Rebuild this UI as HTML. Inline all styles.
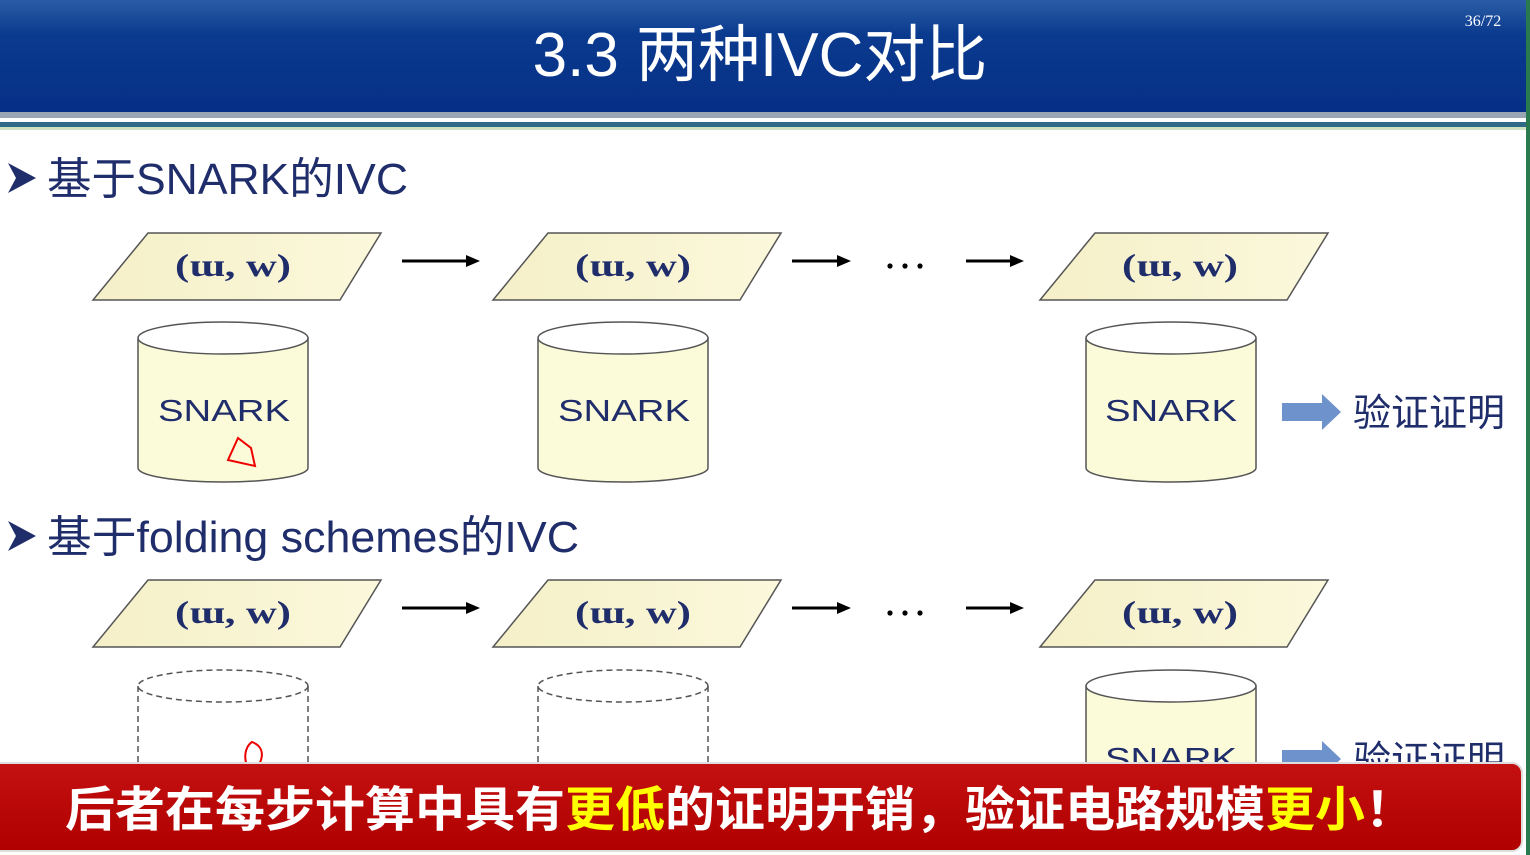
<!DOCTYPE html>
<html><head><meta charset="utf-8"><style>
html,body{margin:0;padding:0;width:1530px;height:855px;overflow:hidden;background:#fff}
svg{display:block}
</style></head><body>
<svg width="1530" height="855" viewBox="0 0 1530 855" xmlns="http://www.w3.org/2000/svg" font-family="'Liberation Sans','Noto Sans CJK SC',sans-serif">
<defs>
<linearGradient id="hd" x1="0" y1="0" x2="0" y2="1">
<stop offset="0" stop-color="#2a5da6"/><stop offset="0.3" stop-color="#0a3a8e"/><stop offset="1" stop-color="#062f86"/></linearGradient>
<linearGradient id="py" x1="0" y1="0" x2="1" y2="0"><stop offset="0" stop-color="#f5f0c8"/><stop offset="1" stop-color="#fbf8dc"/></linearGradient>
<linearGradient id="rb" x1="0" y1="0" x2="0" y2="1"><stop offset="0" stop-color="#c41010"/><stop offset="1" stop-color="#b00000"/></linearGradient>
</defs>
<rect x="0" y="0" width="1530" height="115" fill="url(#hd)"/>
<rect x="0" y="112" width="1530" height="6" fill="#9aa6b4"/>
<rect x="0" y="118" width="1530" height="4" fill="#fff"/>
<rect x="0" y="122" width="1530" height="5" fill="#2f6a86"/>
<rect x="0" y="127" width="1530" height="3" fill="#cfe3c0"/>
<rect x="1526" y="0" width="4" height="855" fill="#2a7a50"/>
<text x="760" y="76" font-size="62" fill="#fff" text-anchor="middle">3.3 两种IVC对比</text>
<text x="1483" y="26" font-size="16" fill="#fff" font-family="'Liberation Serif',serif" text-anchor="middle">36/72</text>

<g fill="#1f2d6b">
<path d="M8,163 L36,178 L8,193 L16,178 Z"/>
<text x="47" y="194" font-size="44" textLength="361" lengthAdjust="spacingAndGlyphs">基于SNARK的IVC</text>
<path d="M8,521 L36,536 L8,551 L16,536 Z"/>
<text x="47" y="552" font-size="44" textLength="532" lengthAdjust="spacingAndGlyphs">基于folding schemes的IVC</text>
</g>

<g id="r1">
<g stroke="#555" stroke-width="1.5" fill="url(#py)">
<path d="M148,233 L381,233 L340,300 L93,300 Z"/>
<path d="M548,233 L781,233 L740,300 L493,300 Z"/>
<path d="M1095,233 L1328,233 L1287,300 L1040,300 Z"/>
</g>
<g font-family="'Liberation Serif','DejaVu Serif',serif" font-size="32" font-weight="bold" fill="#1f2d6b">
<text x="175" y="276" textLength="116" lengthAdjust="spacingAndGlyphs">(ɯ, w)</text>
<text x="575" y="276" textLength="116" lengthAdjust="spacingAndGlyphs">(ɯ, w)</text>
<text x="1122" y="276" textLength="116" lengthAdjust="spacingAndGlyphs">(ɯ, w)</text>
</g>
<g stroke="#000" stroke-width="3">
<line x1="402" y1="261" x2="468" y2="261"/><line x1="792" y1="261" x2="839" y2="261"/><line x1="966" y1="261" x2="1012" y2="261"/>
</g>
<g fill="#000">
<path d="M466,255 L480,261 L466,267 Z"/><path d="M837,255 L851,261 L837,267 Z"/><path d="M1010,255 L1024,261 L1010,267 Z"/>
<circle cx="890" cy="266" r="2.6"/><circle cx="905" cy="266" r="2.6"/><circle cx="920" cy="266" r="2.6"/>
</g>
</g>

<g stroke="#555" stroke-width="1.5" fill="#fbfad9">
<path d="M138,338 L138,468 A85,14 0 0 0 308,468 L308,338"/>
<ellipse cx="223" cy="338" rx="85" ry="16" fill="#fff"/>
<path d="M538,338 L538,468 A85,14 0 0 0 708,468 L708,338"/>
<ellipse cx="623" cy="338" rx="85" ry="16" fill="#fff"/>
<path d="M1086,338 L1086,468 A85,14 0 0 0 1256,468 L1256,338"/>
<ellipse cx="1171" cy="338" rx="85" ry="16" fill="#fff"/>
</g>
<g font-size="31" fill="#1f2d6b">
<text x="158" y="421" textLength="132" lengthAdjust="spacingAndGlyphs">SNARK</text>
<text x="558" y="421" textLength="132" lengthAdjust="spacingAndGlyphs">SNARK</text>
<text x="1105" y="421" textLength="132" lengthAdjust="spacingAndGlyphs">SNARK</text>
</g>
<path d="M238,438 L228,460 L255,466 L251,448 Z" fill="none" stroke="#e00" stroke-width="2"/>
<path d="M1282,403 L1322,403 L1322,394 L1341,412 L1322,430 L1322,421 L1282,421 Z" fill="#6e92cc"/>
<text x="1353" y="426" font-size="38" fill="#1f2d6b">验证证明</text>

<g transform="translate(0,347)">
<g stroke="#555" stroke-width="1.5" fill="url(#py)">
<path d="M148,233 L381,233 L340,300 L93,300 Z"/>
<path d="M548,233 L781,233 L740,300 L493,300 Z"/>
<path d="M1095,233 L1328,233 L1287,300 L1040,300 Z"/>
</g>
<g font-family="'Liberation Serif','DejaVu Serif',serif" font-size="32" font-weight="bold" fill="#1f2d6b">
<text x="175" y="276" textLength="116" lengthAdjust="spacingAndGlyphs">(ɯ, w)</text>
<text x="575" y="276" textLength="116" lengthAdjust="spacingAndGlyphs">(ɯ, w)</text>
<text x="1122" y="276" textLength="116" lengthAdjust="spacingAndGlyphs">(ɯ, w)</text>
</g>
<g stroke="#000" stroke-width="3">
<line x1="402" y1="261" x2="468" y2="261"/><line x1="792" y1="261" x2="839" y2="261"/><line x1="966" y1="261" x2="1012" y2="261"/>
</g>
<g fill="#000">
<path d="M466,255 L480,261 L466,267 Z"/><path d="M837,255 L851,261 L837,267 Z"/><path d="M1010,255 L1024,261 L1010,267 Z"/>
<circle cx="890" cy="266" r="2.6"/><circle cx="905" cy="266" r="2.6"/><circle cx="920" cy="266" r="2.6"/>
</g>
</g>

<g stroke="#555" stroke-width="1.5" fill="none" stroke-dasharray="6,4">
<ellipse cx="223" cy="686" rx="85" ry="16"/><line x1="138" y1="686" x2="138" y2="770"/><line x1="308" y1="686" x2="308" y2="770"/>
<ellipse cx="623" cy="686" rx="85" ry="16"/><line x1="538" y1="686" x2="538" y2="770"/><line x1="708" y1="686" x2="708" y2="770"/>
</g>
<g stroke="#555" stroke-width="1.5" fill="#fbfad9">
<path d="M1086,686 L1086,780 L1256,780 L1256,686"/>
<ellipse cx="1171" cy="686" rx="85" ry="16" fill="#fff"/>
</g>
<text x="1105" y="769" font-size="31" fill="#1f2d6b" textLength="132" lengthAdjust="spacingAndGlyphs">SNARK</text>
<path d="M1282,750 L1322,750 L1322,741 L1341,759 L1322,777 L1322,768 L1282,768 Z" fill="#6e92cc"/>
<text x="1353" y="773" font-size="38" fill="#1f2d6b">验证证明</text>
<path d="M252,742 C243,748 243,765 252,772 C262,765 268,748 252,742 Z" fill="none" stroke="#e00" stroke-width="2"/>

<rect x="-10" y="763" width="1532" height="88" rx="10" fill="url(#rb)" stroke="#ddd" stroke-width="2"/>
<text x="65" y="826" font-size="48" font-weight="bold" fill="#fff" textLength="1350" lengthAdjust="spacingAndGlyphs">后者在每步计算中具有<tspan fill="#ffff00">更低</tspan>的证明开销，验证电路规模<tspan fill="#ffff00">更小</tspan>！</text>
</svg>
</body></html>
